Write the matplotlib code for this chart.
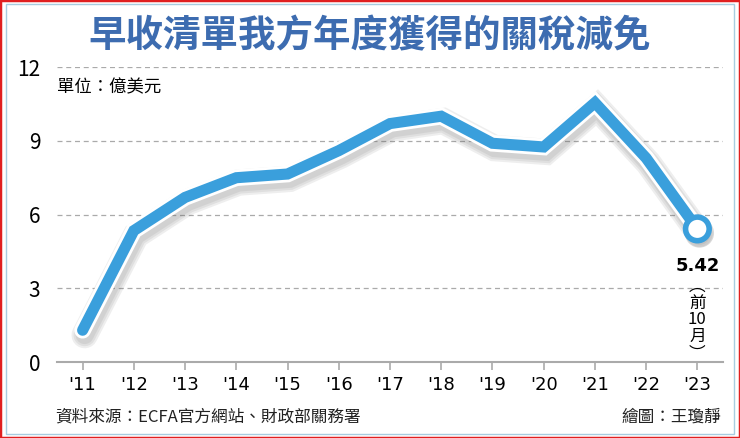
import matplotlib
matplotlib.use("Agg")
import matplotlib.pyplot as plt
import matplotlib.patheffects as pe
from matplotlib.patches import Rectangle

plt.rcParams['font.family'] = ['Noto Sans CJK TC', 'DejaVu Sans']

years = ["'11", "'12", "'13", "'14", "'15", "'16", "'17", "'18", "'19", "'20", "'21", "'22", "'23"]
values = [1.3, 5.35, 6.7, 7.5, 7.65, 8.6, 9.7, 10.0, 8.9, 8.75, 10.55, 8.3, 5.42]
yticks = [0, 3, 6, 9, 12]

fig = plt.figure(figsize=(7.4, 4.38), dpi=100)
fig.patches.append(Rectangle((0, 0), 1, 1, transform=fig.transFigure, fill=False,
                             edgecolor='#e02020', linewidth=2.5))
fig.patches.append(Rectangle((0.008, 0.01), 0.984, 0.98, transform=fig.transFigure, fill=False,
                             edgecolor='#a8cce0', linewidth=1))

ax = fig.add_axes([0.077, 0.173, 0.9, 0.674])
x = list(range(len(years)))

# soft shadow: a few stacked light strokes
shadow = [pe.SimpleLineShadow(offset=(1.5, -3.5), shadow_color='#666666', alpha=0.11, linewidth=w)
          for w in (19, 16, 13)]
ax.plot(x, values, color='#3a9fdc', linewidth=8, solid_capstyle='round', solid_joinstyle='miter',
        zorder=3,
        path_effects=shadow + [pe.Stroke(linewidth=12, foreground='white'), pe.Normal()])
ax.plot(x[-1], values[-1], 'o', markersize=17, markerfacecolor='white', markeredgecolor='#3a9fdc',
        markeredgewidth=4, zorder=4,
        path_effects=[pe.SimpleLineShadow(offset=(1.5, -3), shadow_color='#666666', alpha=0.25),
                      pe.Normal()])

ax.set_ylim(0, 12)
ax.set_xlim(-0.5, 12.5)
ax.set_yticks(yticks)
ax.set_xticks(x)
ax.set_xticklabels(years, fontsize=13, family=['Liberation Sans Narrow', 'DejaVu Sans'])
ax.set_yticklabels([str(v) for v in yticks], fontsize=15)
ax.tick_params(axis='y', length=0, pad=12)
ax.tick_params(axis='x', length=6, color='#aaaaaa', width=1.2, pad=4)
for s in ['top', 'right', 'left']:
    ax.spines[s].set_visible(False)
ax.spines['bottom'].set_color('#aaaaaa')
ax.spines['bottom'].set_linewidth(1.5)
for v in yticks[1:]:
    ax.axhline(v, color='#aaaaaa', linestyle=(0, (4, 3)), linewidth=0.9, zorder=1)

ax.text(12, 3.9, '5.42', ha='center', va='center', fontsize=13, fontweight='bold', family='DejaVu Sans')
ax.text(12, 1.72, '︵\n前\n10\n月\n︶', ha='center', va='center', fontsize=12, linespacing=1.0)

fig.text(0.5, 0.918, '早收清單我方年度獲得的關稅減免', ha='center', va='center',
         fontsize=27, fontweight='bold', color='#3d6cb0')
fig.text(0.077, 0.8, '單位：億美元', ha='left', va='center', fontsize=12.5)
fig.text(0.074, 0.048, '資料來源：ECFA官方網站、財政部關務署', ha='left', va='center',
         fontsize=12, color='#222222')
fig.text(0.975, 0.048, '繪圖：王瓊靜', ha='right', va='center', fontsize=12, color='#222222')

fig.savefig('out.png', dpi=100)
